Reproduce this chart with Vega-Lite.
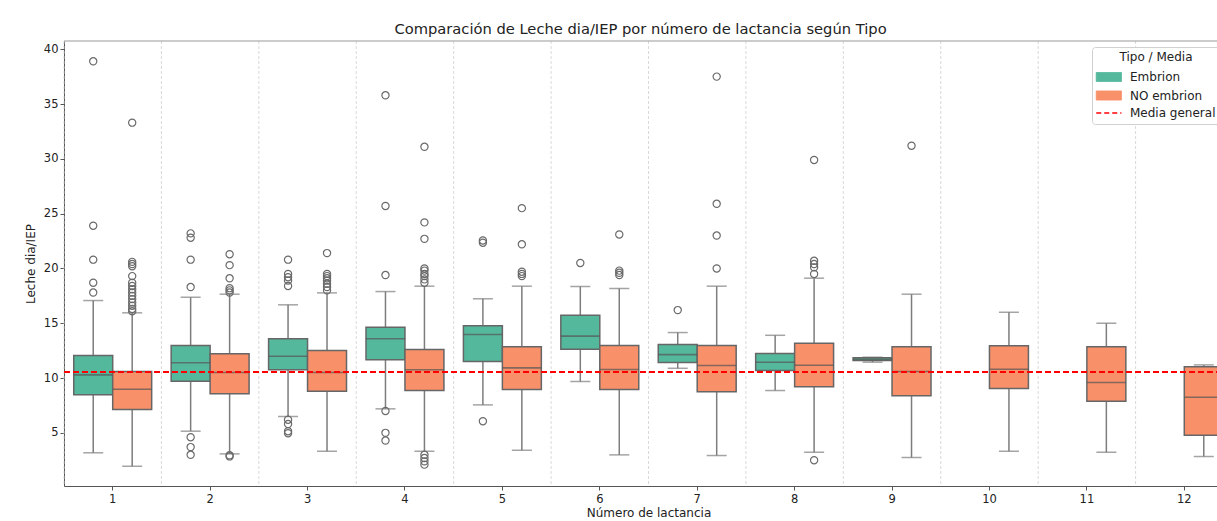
{
  "$schema": "https://vega.github.io/schema/vega-lite/v6.json",
  "autosize": {"type": "none"},
  "width": 1153,
  "height": 445,
  "padding": {"left": 64, "top": 41, "right": 0, "bottom": 35},
  "background": "white",
  "config": {
    "view": {"stroke": null},
    "font": "DejaVu Sans",
    "axis": {"labelFont": "DejaVu Sans", "titleFont": "DejaVu Sans", "labelFontSize": 11.5, "titleFontSize": 12, "titleFontWeight": "normal", "labelColor": "#222", "titleColor": "#222", "domainColor": "#555", "tickColor": "#555", "tickSize": 4, "grid": false},
    "title": {"font": "DejaVu Sans", "fontSize": 14.7, "fontWeight": "normal", "color": "#222"}
  },
  "title": {"text": "Comparación de Leche dia/IEP por número de lactancia según Tipo", "anchor": "middle", "offset": 4},
  "datasets": {
    "boxes": [
      {"lact": 1, "tipo": "Embrion", "lo": 3.18, "q1": 8.47, "med": 10.29, "q3": 12.05, "hi": 17.07},
      {"lact": 1, "tipo": "NO embrion", "lo": 1.95, "q1": 7.13, "med": 8.98, "q3": 10.59, "hi": 15.95},
      {"lact": 2, "tipo": "Embrion", "lo": 5.15, "q1": 9.71, "med": 11.39, "q3": 12.97, "hi": 17.37},
      {"lact": 2, "tipo": "NO embrion", "lo": 3.08, "q1": 8.56, "med": 10.5, "q3": 12.21, "hi": 17.65},
      {"lact": 3, "tipo": "Embrion", "lo": 6.49, "q1": 10.75, "med": 11.99, "q3": 13.58, "hi": 16.68},
      {"lact": 3, "tipo": "NO embrion", "lo": 3.32, "q1": 8.8, "med": 10.5, "q3": 12.51, "hi": 17.77},
      {"lact": 4, "tipo": "Embrion", "lo": 7.19, "q1": 11.66, "med": 13.58, "q3": 14.64, "hi": 17.89},
      {"lact": 4, "tipo": "NO embrion", "lo": 3.32, "q1": 8.86, "med": 10.75, "q3": 12.6, "hi": 18.38},
      {"lact": 5, "tipo": "Embrion", "lo": 7.55, "q1": 11.51, "med": 13.97, "q3": 14.76, "hi": 17.23},
      {"lact": 5, "tipo": "NO embrion", "lo": 3.41, "q1": 8.95, "med": 10.93, "q3": 12.85, "hi": 18.38},
      {"lact": 6, "tipo": "Embrion", "lo": 9.68, "q1": 12.63, "med": 13.82, "q3": 15.73, "hi": 18.35},
      {"lact": 6, "tipo": "NO embrion", "lo": 2.99, "q1": 8.95, "med": 10.78, "q3": 12.97, "hi": 18.17},
      {"lact": 7, "tipo": "Embrion", "lo": 10.89, "q1": 11.41, "med": 12.14, "q3": 13.06, "hi": 14.15},
      {"lact": 7, "tipo": "NO embrion", "lo": 2.93, "q1": 8.74, "med": 11.14, "q3": 12.97, "hi": 18.38},
      {"lact": 8, "tipo": "Embrion", "lo": 8.86, "q1": 10.68, "med": 11.44, "q3": 12.24, "hi": 13.9},
      {"lact": 8, "tipo": "NO embrion", "lo": 3.23, "q1": 9.2, "med": 11.17, "q3": 13.18, "hi": 19.11},
      {"lact": 9, "tipo": "Embrion", "lo": 11.45, "q1": 11.6, "med": 11.7, "q3": 11.85, "hi": 11.9},
      {"lact": 9, "tipo": "NO embrion", "lo": 2.75, "q1": 8.38, "med": 10.59, "q3": 12.85, "hi": 17.65},
      {"lact": 10, "tipo": "NO embrion", "lo": 3.32, "q1": 9.04, "med": 10.8, "q3": 12.94, "hi": 16.0},
      {"lact": 11, "tipo": "NO embrion", "lo": 3.23, "q1": 7.88, "med": 9.59, "q3": 12.85, "hi": 15.0},
      {"lact": 12, "tipo": "NO embrion", "lo": 2.84, "q1": 4.78, "med": 8.25, "q3": 11.02, "hi": 11.2}
    ],
    "outliers": [
      {"lact": 1, "tipo": "Embrion", "v": 38.9}, {"lact": 1, "tipo": "Embrion", "v": 23.9}, {"lact": 1, "tipo": "Embrion", "v": 20.8}, {"lact": 1, "tipo": "Embrion", "v": 18.7}, {"lact": 1, "tipo": "Embrion", "v": 17.8},
      {"lact": 1, "tipo": "NO embrion", "v": 33.3}, {"lact": 1, "tipo": "NO embrion", "v": 20.6}, {"lact": 1, "tipo": "NO embrion", "v": 20.4}, {"lact": 1, "tipo": "NO embrion", "v": 20.2}, {"lact": 1, "tipo": "NO embrion", "v": 19.3}, {"lact": 1, "tipo": "NO embrion", "v": 18.7}, {"lact": 1, "tipo": "NO embrion", "v": 18.4}, {"lact": 1, "tipo": "NO embrion", "v": 18.1}, {"lact": 1, "tipo": "NO embrion", "v": 17.8}, {"lact": 1, "tipo": "NO embrion", "v": 17.5}, {"lact": 1, "tipo": "NO embrion", "v": 17.2}, {"lact": 1, "tipo": "NO embrion", "v": 16.9}, {"lact": 1, "tipo": "NO embrion", "v": 16.6}, {"lact": 1, "tipo": "NO embrion", "v": 16.3}, {"lact": 1, "tipo": "NO embrion", "v": 16.1},
      {"lact": 2, "tipo": "Embrion", "v": 23.2}, {"lact": 2, "tipo": "Embrion", "v": 22.8}, {"lact": 2, "tipo": "Embrion", "v": 20.8}, {"lact": 2, "tipo": "Embrion", "v": 18.3}, {"lact": 2, "tipo": "Embrion", "v": 4.6}, {"lact": 2, "tipo": "Embrion", "v": 3.7}, {"lact": 2, "tipo": "Embrion", "v": 3.0},
      {"lact": 2, "tipo": "NO embrion", "v": 21.3}, {"lact": 2, "tipo": "NO embrion", "v": 20.3}, {"lact": 2, "tipo": "NO embrion", "v": 19.1}, {"lact": 2, "tipo": "NO embrion", "v": 18.2}, {"lact": 2, "tipo": "NO embrion", "v": 18.0}, {"lact": 2, "tipo": "NO embrion", "v": 17.8}, {"lact": 2, "tipo": "NO embrion", "v": 2.95}, {"lact": 2, "tipo": "NO embrion", "v": 2.85},
      {"lact": 3, "tipo": "Embrion", "v": 20.8}, {"lact": 3, "tipo": "Embrion", "v": 19.5}, {"lact": 3, "tipo": "Embrion", "v": 19.2}, {"lact": 3, "tipo": "Embrion", "v": 18.9}, {"lact": 3, "tipo": "Embrion", "v": 18.4}, {"lact": 3, "tipo": "Embrion", "v": 6.2}, {"lact": 3, "tipo": "Embrion", "v": 5.8}, {"lact": 3, "tipo": "Embrion", "v": 5.15}, {"lact": 3, "tipo": "Embrion", "v": 4.97},
      {"lact": 3, "tipo": "NO embrion", "v": 21.4}, {"lact": 3, "tipo": "NO embrion", "v": 19.5}, {"lact": 3, "tipo": "NO embrion", "v": 19.3}, {"lact": 3, "tipo": "NO embrion", "v": 19.1}, {"lact": 3, "tipo": "NO embrion", "v": 18.9}, {"lact": 3, "tipo": "NO embrion", "v": 18.6}, {"lact": 3, "tipo": "NO embrion", "v": 18.3}, {"lact": 3, "tipo": "NO embrion", "v": 18.0},
      {"lact": 4, "tipo": "Embrion", "v": 35.8}, {"lact": 4, "tipo": "Embrion", "v": 25.7}, {"lact": 4, "tipo": "Embrion", "v": 19.4}, {"lact": 4, "tipo": "Embrion", "v": 7.0}, {"lact": 4, "tipo": "Embrion", "v": 5.0}, {"lact": 4, "tipo": "Embrion", "v": 4.3},
      {"lact": 4, "tipo": "NO embrion", "v": 31.1}, {"lact": 4, "tipo": "NO embrion", "v": 24.2}, {"lact": 4, "tipo": "NO embrion", "v": 22.7}, {"lact": 4, "tipo": "NO embrion", "v": 20.0}, {"lact": 4, "tipo": "NO embrion", "v": 19.8}, {"lact": 4, "tipo": "NO embrion", "v": 19.5}, {"lact": 4, "tipo": "NO embrion", "v": 19.3}, {"lact": 4, "tipo": "NO embrion", "v": 19.0}, {"lact": 4, "tipo": "NO embrion", "v": 18.7}, {"lact": 4, "tipo": "NO embrion", "v": 3.0}, {"lact": 4, "tipo": "NO embrion", "v": 2.7}, {"lact": 4, "tipo": "NO embrion", "v": 2.4}, {"lact": 4, "tipo": "NO embrion", "v": 2.1},
      {"lact": 5, "tipo": "Embrion", "v": 22.55}, {"lact": 5, "tipo": "Embrion", "v": 22.35}, {"lact": 5, "tipo": "Embrion", "v": 6.06},
      {"lact": 5, "tipo": "NO embrion", "v": 25.5}, {"lact": 5, "tipo": "NO embrion", "v": 22.2}, {"lact": 5, "tipo": "NO embrion", "v": 19.7}, {"lact": 5, "tipo": "NO embrion", "v": 19.5}, {"lact": 5, "tipo": "NO embrion", "v": 19.3},
      {"lact": 6, "tipo": "Embrion", "v": 20.5},
      {"lact": 6, "tipo": "NO embrion", "v": 23.1}, {"lact": 6, "tipo": "NO embrion", "v": 19.8}, {"lact": 6, "tipo": "NO embrion", "v": 19.6}, {"lact": 6, "tipo": "NO embrion", "v": 19.4},
      {"lact": 7, "tipo": "Embrion", "v": 16.2},
      {"lact": 7, "tipo": "NO embrion", "v": 37.5}, {"lact": 7, "tipo": "NO embrion", "v": 25.9}, {"lact": 7, "tipo": "NO embrion", "v": 23.0}, {"lact": 7, "tipo": "NO embrion", "v": 20.0},
      {"lact": 8, "tipo": "NO embrion", "v": 29.9}, {"lact": 8, "tipo": "NO embrion", "v": 20.7}, {"lact": 8, "tipo": "NO embrion", "v": 20.4}, {"lact": 8, "tipo": "NO embrion", "v": 20.1}, {"lact": 8, "tipo": "NO embrion", "v": 19.5}, {"lact": 8, "tipo": "NO embrion", "v": 2.5},
      {"lact": 9, "tipo": "NO embrion", "v": 31.2}
    ],
    "cats": [{"lact": 1}, {"lact": 2}, {"lact": 3}, {"lact": 4}, {"lact": 5}, {"lact": 6}, {"lact": 7}, {"lact": 8}, {"lact": 9}, {"lact": 10}, {"lact": 11}, {"lact": 12}]
  },
  "encoding": {
    "x": {"field": "lact", "type": "ordinal", "scale": {"domain": [1,2,3,4,5,6,7,8,9,10,11,12], "range": [0, 1169], "paddingInner": 0, "paddingOuter": 0}, "axis": {"title": "Número de lactancia", "labelAngle": 0, "labelPadding": 3, "titlePadding": 3}}
  },
  "layer": [
    {
      "data": {"name": "cats"},
      "mark": {"type": "rule", "color": "#cfcfcf", "strokeDash": [3, 2], "strokeWidth": 0.8},
      "encoding": {"x": {"field": "lact", "type": "ordinal", "bandPosition": 0}}
    },
    {
      "data": {"name": "boxes"},
      "mark": {"type": "rule", "color": "#7d7d7d", "strokeWidth": 1.5},
      "encoding": {
        "xOffset": {"field": "tipo", "type": "nominal", "scale": {"domain": ["Embrion", "NO embrion"], "paddingOuter": 0.25, "paddingInner": 0}},
        "y": {"field": "lo", "type": "quantitative", "scale": {"domain": [0.15, 40.75], "nice": false, "zero": false}, "axis": {"title": "Leche dia/IEP", "values": [5,10,15,20,25,30,35,40], "titlePadding": 6}},
        "y2": {"field": "hi"}
      }
    },
    {
      "data": {"name": "boxes"},
      "mark": {"type": "tick", "color": "#7d7d7d", "size": 20, "thickness": 1.5},
      "encoding": {
        "xOffset": {"field": "tipo", "type": "nominal"},
        "y": {"field": "lo", "type": "quantitative"}
      }
    },
    {
      "data": {"name": "boxes"},
      "mark": {"type": "tick", "color": "#7d7d7d", "size": 20, "thickness": 1.5},
      "encoding": {
        "xOffset": {"field": "tipo", "type": "nominal"},
        "y": {"field": "hi", "type": "quantitative"}
      }
    },
    {
      "data": {"name": "boxes"},
      "mark": {"type": "bar", "stroke": "#666666", "strokeWidth": 1.5},
      "encoding": {
        "xOffset": {"field": "tipo", "type": "nominal"},
        "y": {"field": "q1", "type": "quantitative"},
        "y2": {"field": "q3"},
        "color": {"field": "tipo", "type": "nominal", "scale": {"domain": ["Embrion", "NO embrion", "Media general"], "range": ["#54b89c", "#f8906a", "#ff0000"]},
          "legend": {
            "title": "Tipo / Media", "orient": "none", "legendX": 1028, "legendY": 6, "titleAnchor": "middle",
            "titleFont": "DejaVu Sans", "titleFontSize": 12, "titleFontWeight": "normal", "titleColor": "#222",
            "labelFont": "DejaVu Sans", "labelFontSize": 12, "labelColor": "#222",
            "fillColor": "white", "strokeColor": "#d0d0d0", "cornerRadius": 3, "padding": 5,
            "symbolSize": 324, "rowPadding": 4.5, "labelOffset": 21, "titlePadding": 7,
            "encode": {"symbols": {"update": {
              "shape": {"signal": "datum.value === 'Media general' ? 'M-0.75,0H2.05' : 'M-0.75,-0.5H2.05V0.5H-0.75Z'"},
              "fill": {"signal": "datum.value === 'Media general' ? 'transparent' : scale('color', datum.value)"},
              "stroke": {"signal": "datum.value === 'Media general' ? '#ff0000' : '#555555'"},
              "strokeDash": {"signal": "datum.value === 'Media general' ? [5, 3] : [1, 0]"},
              "strokeWidth": {"signal": "datum.value === 'Media general' ? 1.6 : 1"},
              "opacity": {"value": 1}
            }}}
          }
        }
      }
    },
    {
      "data": {"name": "boxes"},
      "mark": {"type": "tick", "color": "#555555", "size": 39, "thickness": 1.6},
      "encoding": {
        "xOffset": {"field": "tipo", "type": "nominal"},
        "y": {"field": "med", "type": "quantitative"}
      }
    },
    {
      "data": {"name": "outliers"},
      "mark": {"type": "point", "shape": "circle", "filled": false, "size": 52, "stroke": "#6a6a6a", "strokeWidth": 1.2, "opacity": 1},
      "encoding": {
        "xOffset": {"field": "tipo", "type": "nominal"},
        "y": {"field": "v", "type": "quantitative"}
      }
    },
    {
      "data": {"values": [{}]},
      "mark": {"type": "rule", "strokeDash": [6, 3], "strokeWidth": 1.8},
      "encoding": {
        "x": {"value": 0},
        "x2": {"value": 1169},
        "y": {"datum": 10.55, "type": "quantitative"},
        "color": {"datum": "Media general", "type": "nominal", "legend": {
            "title": "Tipo / Media", "orient": "none", "legendX": 1028, "legendY": 6, "titleAnchor": "middle",
            "titleFont": "DejaVu Sans", "titleFontSize": 12, "titleFontWeight": "normal", "titleColor": "#222",
            "labelFont": "DejaVu Sans", "labelFontSize": 12, "labelColor": "#222",
            "fillColor": "white", "strokeColor": "#d0d0d0", "cornerRadius": 3, "padding": 5,
            "symbolSize": 324, "rowPadding": 4.5, "labelOffset": 21, "titlePadding": 7,
            "encode": {"symbols": {"update": {
              "shape": {"signal": "datum.value === 'Media general' ? 'M-0.75,0H2.05' : 'M-0.75,-0.5H2.05V0.5H-0.75Z'"},
              "fill": {"signal": "datum.value === 'Media general' ? 'transparent' : scale('color', datum.value)"},
              "stroke": {"signal": "datum.value === 'Media general' ? '#ff0000' : '#555555'"},
              "strokeDash": {"signal": "datum.value === 'Media general' ? [5, 3] : [1, 0]"},
              "strokeWidth": {"signal": "datum.value === 'Media general' ? 1.6 : 1"},
              "opacity": {"value": 1}
            }}}
          }}
      }
    },
    {
      "data": {"values": [{}]},
      "mark": {"type": "rule", "color": "#999999", "strokeWidth": 1},
      "encoding": {
        "x": {"value": 0},
        "x2": {"value": 1169},
        "y": {"datum": 40.75, "type": "quantitative"}
      }
    }
  ]
}
